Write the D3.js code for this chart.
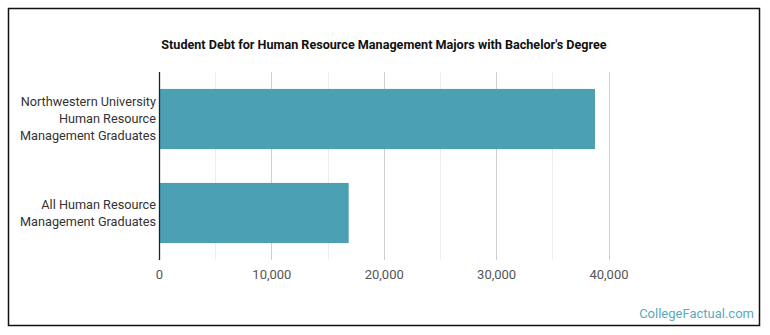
<!DOCTYPE html>
<html>
<head>
<meta charset="utf-8">
<script src="https://cdn.jsdelivr.net/npm/d3@7"></script>
<style>
  body { margin: 0; background: #fff; }
  svg text { font-family: Roboto, "Noto Sans", sans-serif; }
</style>
</head>
<body>
<div id="chart"></div>
<script>
// chart data
var categories = [
  ["Northwestern University", "Human Resource", "Management Graduates"],
  ["All Human Resource", "Management Graduates"]
];
var debtValues = [38800, 16880];
var tickValues = [0, 10000, 20000, 30000, 40000];
var gridValues = [5000, 10000, 15000, 20000, 25000, 30000, 35000, 40000];
var chartTitle = "Student Debt for Human Resource Management Majors with Bachelor's Degree";

var svgWidth = 770;
var svgHeight = 335;

var margin = { top: 72, right: 160, bottom: 75, left: 159 };
var width = svgWidth - margin.left - margin.right;
var height = svgHeight - margin.top - margin.bottom;

var svg = d3.select("#chart")
    .append("svg")
    .attr("width", svgWidth)
    .attr("height", svgHeight);

// outer frame
svg.append("rect")
    .attr("x", 8.5)
    .attr("y", 8.5)
    .attr("width", 751)
    .attr("height", 317)
    .attr("fill", "none")
    .attr("stroke", "#111")
    .attr("stroke-width", 1.5);

svg.append("text")
    .attr("x", 384)
    .attr("y", 49)
    .attr("text-anchor", "middle")
    .attr("font-size", 12.6)
    .attr("font-weight", "bold")
    .attr("fill", "#111")
    .text(chartTitle);

var chartGroup = svg.append("g")
    .attr("transform", `translate(${margin.left}, ${margin.top})`);

var xScale = d3.scaleLinear()
    .domain([0, 40000])
    .range([0, 449.5]);

var yScale = d3.scaleBand()
    .domain(d3.range(categories.length))
    .range([0, height])
    .paddingInner(0.36)
    .paddingOuter(0.18);

// gridlines
chartGroup.selectAll(".grid")
    .data(gridValues)
    .enter()
    .append("line")
    .attr("x1", d => Math.round(xScale(d)) + 0.5)
    .attr("x2", d => Math.round(xScale(d)) + 0.5)
    .attr("y1", 0)
    .attr("y2", height)
    .attr("stroke", d => d % 10000 === 0 ? "#cfcfcf" : "#ececec")
    .attr("stroke-width", 1);

// bars
chartGroup.selectAll(".bar")
    .data(debtValues)
    .enter()
    .append("rect")
    .attr("x", 0)
    .attr("y", (d, i) => yScale(i))
    .attr("width", d => xScale(d))
    .attr("height", yScale.bandwidth())
    .attr("fill", "#4ba0b4");

// y axis line
chartGroup.append("line")
    .attr("x1", 0.5)
    .attr("x2", 0.5)
    .attr("y1", 0)
    .attr("y2", height)
    .attr("stroke", "#222")
    .attr("stroke-width", 1.3);

// x axis labels
var bottomAxis = d3.axisBottom(xScale)
    .tickValues(tickValues)
    .tickFormat(d3.format(","))
    .tickSize(0)
    .tickPadding(10);

var xAxis = chartGroup.append("g")
    .attr("transform", `translate(0, ${height})`)
    .call(bottomAxis);

xAxis.select(".domain").remove();
xAxis.selectAll("text")
    .attr("font-size", 13)
    .attr("font-family", "Roboto, sans-serif")
    .attr("fill", "#555");

// category labels
var labelGroup = chartGroup.selectAll(".cat")
    .data(categories)
    .enter()
    .append("text")
    .attr("text-anchor", "end")
    .attr("font-size", 12.7)
    .attr("fill", "#333")
    .attr("transform", (d, i) => {
        var cy = yScale(i) + yScale.bandwidth() / 2;
        var top = cy - (d.length - 1) * 17 / 2;
        return `translate(-3, ${top})`;
    });

labelGroup.selectAll("tspan")
    .data(d => d)
    .enter()
    .append("tspan")
    .attr("x", 0)
    .attr("y", (d, i) => i * 17)
    .attr("dy", "0.35em")
    .text(d => d);

// watermark
svg.append("text")
    .attr("x", 754)
    .attr("y", 318)
    .attr("text-anchor", "end")
    .attr("font-size", 13)
    .attr("fill", "#5aaabb")
    .text("CollegeFactual.com");
</script>
</body>
</html>
